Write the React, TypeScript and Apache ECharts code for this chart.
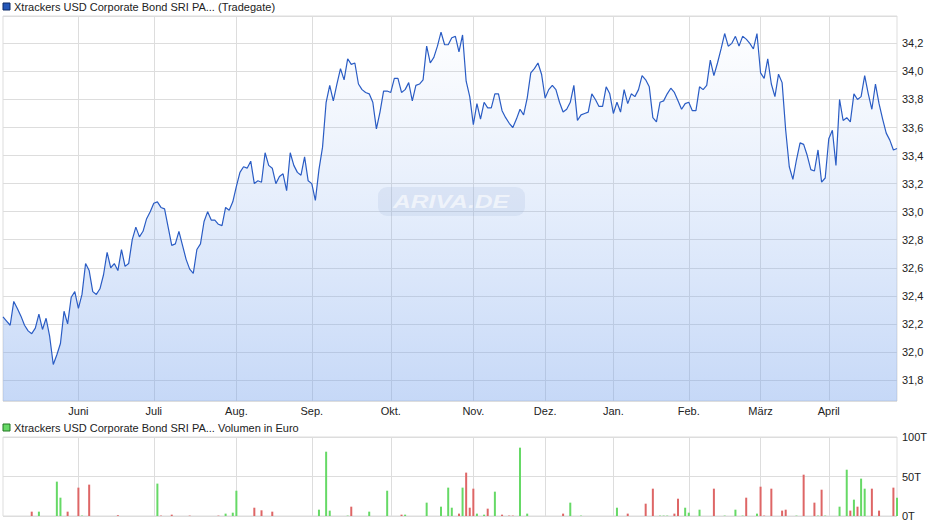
import React, { useEffect, useRef } from 'react';
import * as echarts from 'echarts';

const FONT = '"Liberation Sans", Arial, Helvetica, sans-serif';

// Trading days per month (first block = late May 2024, last = April 2025)
const monthNames = ['Mai', 'Juni', 'Juli', 'Aug.', 'Sep.', 'Okt.', 'Nov.', 'Dez.', 'Jan.', 'Feb.', 'März', 'April'];
const monthDays = [21, 21, 23, 21, 22, 23, 20, 19, 21, 20, 19, 20];

// Closing prices (Tradegate)
const price = [
  32.25, 32.22, 32.19, 32.36, 32.31, 32.255, 32.19, 32.15, 32.13, 32.17,
  32.27, 32.16, 32.24, 32.11, 31.91, 31.98, 32.06, 32.29, 32.2, 32.39,
  32.43, 32.31, 32.41, 32.63, 32.58, 32.43, 32.41, 32.45, 32.55, 32.71,
  32.6, 32.63, 32.58, 32.73, 32.61, 32.63, 32.8, 32.89, 32.82, 32.86,
  32.95, 33.0, 33.06, 33.07, 33.03, 33.02, 32.89, 32.76, 32.77, 32.86,
  32.76, 32.66, 32.59, 32.56, 32.73, 32.77, 32.93, 33.0, 32.94, 32.94,
  32.91, 32.9, 33.03, 33.01, 33.07, 33.18, 33.28, 33.32, 33.31, 33.36,
  33.2, 33.22, 33.21, 33.42, 33.33, 33.31, 33.2, 33.25, 33.27, 33.15,
  33.42, 33.33, 33.28, 33.26, 33.39, 33.22, 33.2, 33.08, 33.3, 33.46,
  33.78, 33.9, 33.79, 33.91, 34.02, 33.94, 34.09, 34.05, 34.06, 33.91,
  33.87, 33.85, 33.84, 33.78, 33.59, 33.71, 33.86, 33.86, 33.85, 33.95,
  33.95, 33.85, 33.87, 33.92, 33.79, 33.9, 33.91, 33.94, 34.18, 34.06,
  34.1, 34.18, 34.28, 34.19, 34.19, 34.24, 34.25, 34.14, 34.26, 33.93,
  33.82, 33.62, 33.77, 33.66, 33.78, 33.74, 33.74, 33.84, 33.84, 33.72,
  33.67, 33.63, 33.6, 33.66, 33.73, 33.69, 33.81, 33.99, 34.02, 34.06,
  33.98, 33.81, 33.87, 33.9, 33.87, 33.78, 33.71, 33.73, 33.78, 33.9,
  33.65, 33.69, 33.7, 33.71, 33.84, 33.8, 33.75, 33.75, 33.89, 33.84,
  33.7, 33.78, 33.71, 33.87, 33.77, 33.84, 33.82, 33.87, 33.97, 33.94,
  33.89, 33.67, 33.64, 33.78, 33.79, 33.84, 33.88, 33.85, 33.79, 33.73,
  33.77, 33.78, 33.72, 33.72, 33.89, 33.87, 33.9, 34.08, 33.97, 34.06,
  34.16, 34.27, 34.18, 34.2, 34.25, 34.18, 34.25, 34.23, 34.2, 34.16,
  34.27, 33.99, 33.95, 34.09, 33.91, 33.82, 33.98, 33.92, 33.58, 33.32,
  33.23, 33.37, 33.49, 33.48, 33.4, 33.3, 33.29, 33.44, 33.21, 33.24,
  33.52, 33.58, 33.33, 33.8, 33.65, 33.67, 33.64, 33.84, 33.8, 33.82,
  33.97, 33.84, 33.73, 33.91, 33.77, 33.66, 33.56, 33.51, 33.44, 33.45,
];

// Volume in thousand euro: trading-day index, value, up (1 = green) / down (0 = red)
const volIdx = [
  8, 10, 15, 16, 18, 21, 22, 24, 32, 43, 44, 47, 52, 60, 62, 64, 65, 70, 72, 75,
  88, 90, 91, 96, 97, 102, 107, 111, 112, 118, 122, 124, 125, 127, 128, 129, 130, 131, 132, 134,
  135, 137, 139, 141, 142, 144, 146, 156, 158, 161, 171, 174, 179, 181, 183, 184, 185, 187, 188, 190,
  191, 194, 198, 201, 204, 206, 207, 210, 211, 212, 214, 217, 218, 221, 223, 226, 227, 228, 229, 233,
  235, 236, 237, 238, 239, 240, 242, 244, 248, 249,
];
const volVal = [
  5.5, 5.5, 43.5, 23.2, 5.5, 35.9, 0.5, 39.7, 1, 41, 0.5, 1.7, 0.5, 0.5, 3, 4.2, 32, 10.5, 7.2, 5.5,
  8, 81.4, 6.8, 0.5, 11.8, 5.5, 32, 1.7, 1.7, 16.9, 11.8, 35.9, 10.5, 3, 35.9, 54.9, 10.5, 34.6, 3, 1.7,
  9.3, 30.8, 1.7, 0.5, 0.5, 86.5, 3, 3, 16.9, 0.5, 10.5, 3, 15.6, 34.6, 0.5, 0.5, 0.5, 3, 21.9, 10.5,
  4.2, 8, 34.6, 0.5, 8, 0.5, 23.2, 3, 37.1, 0.5, 34.6, 6.8, 8, 0.5, 52.3, 16.9, 0.5, 33.3, 0.5, 11.8,
  58.6, 6.8, 20.7, 11.8, 47.3, 34.6, 34.6, 6.8, 35.9, 23.2,
];
const volUp = [
  0, 1, 1, 1, 0, 0, 1, 0, 0, 1, 0, 0, 0, 0, 1, 1, 1, 0, 0, 0,
  1, 1, 1, 1, 0, 1, 1, 0, 1, 1, 1, 1, 1, 0, 1, 0, 0, 0, 1, 1,
  0, 1, 0, 0, 0, 1, 1, 0, 1, 1, 1, 0, 0, 0, 1, 1, 1, 0, 0, 1,
  1, 1, 0, 1, 1, 1, 0, 1, 0, 0, 0, 0, 0, 1, 0, 0, 1, 0, 1, 1,
  1, 0, 1, 0, 1, 1, 0, 0, 0, 1,
];

const volTicks = [0, 50, 100];

const GREEN = '#66d966';
const RED = '#de6666';
const GRIDC = '#dddddd';
const TEXTC = '#222222';

export default function App() {
  const ref = useRef<HTMLDivElement>(null);

  useEffect(() => {
    if (!ref.current) return;
    const chart = echarts.init(ref.current, null, { renderer: 'svg' });

    const categories: string[] = [];
    const starts = new Set<number>();
    monthNames.forEach((m, mi) => {
      for (let k = 0; k < monthDays[mi]; k++) {
        if (k === 0 && mi > 0) starts.add(categories.length);
        categories.push(m + '|' + (k + 1));
      }
    });
    const isStart = (i: number) => starts.has(i);

    const volData: any[] = categories.map(() => '-');
    volIdx.forEach((idx, j) => {
      volData[idx] = { value: volVal[j], itemStyle: { color: volUp[j] ? GREEN : RED } };
    });

    const option: any = {
      animation: false,
      textStyle: { fontFamily: FONT },
      grid: [
        { left: 3, top: 16, width: 894, height: 385, show: true, borderColor: GRIDC, borderWidth: 1, backgroundColor: 'transparent' },
        { left: 3, top: 437, width: 894, height: 79, show: true, borderColor: GRIDC, borderWidth: 1, backgroundColor: 'transparent' },
      ],
      xAxis: [
        {
          type: 'category', gridIndex: 0, data: categories, boundaryGap: false,
          axisLine: { show: false }, axisTick: { show: false },
          axisLabel: {
            interval: (i: number) => isStart(i),
            formatter: (v: string) => v.split('|')[0],
            color: TEXTC, fontSize: 11, margin: 4, fontFamily: FONT,
          },
          splitLine: { show: true, interval: (i: number) => isStart(i), lineStyle: { color: GRIDC, width: 1 } },
        },
        {
          type: 'category', gridIndex: 1, data: categories, boundaryGap: false,
          axisLine: { show: false }, axisTick: { show: false }, axisLabel: { show: false },
          splitLine: { show: true, interval: (i: number) => isStart(i), lineStyle: { color: GRIDC, width: 1 } },
        },
      ],
      yAxis: [
        {
          type: 'value', gridIndex: 0, position: 'right', min: 31.65, max: 34.395, splitNumber: 13, scale: true,
          axisLine: { show: false }, axisTick: { show: false },
          axisLabel: {
            showMinLabel: false, showMaxLabel: false,
            formatter: (v: number) => v.toFixed(1).replace('.', ','),
            color: TEXTC, fontSize: 11, margin: 5, fontFamily: FONT,
          },
          splitLine: { show: true, lineStyle: { color: GRIDC, width: 1 } },
        },
        {
          type: 'value', gridIndex: 1, position: 'right', min: volTicks[0], max: volTicks[2], interval: volTicks[1],
          axisLine: { show: false }, axisTick: { show: false },
          axisLabel: { formatter: (v: number) => v + 'T', color: TEXTC, fontSize: 11, margin: 5, fontFamily: FONT },
          splitLine: { show: true, lineStyle: { color: GRIDC, width: 1 } },
        },
      ],
      series: [
        {
          type: 'line', xAxisIndex: 0, yAxisIndex: 0, data: price, symbol: 'none', z: 3,
          lineStyle: { color: '#2a5cc4', width: 1.2 },
          areaStyle: {
            origin: 'start',
            color: new echarts.graphic.LinearGradient(0, 0, 0, 1, [
              { offset: 0, color: 'rgba(130,170,238,0.02)' },
              { offset: 0.5, color: 'rgba(125,168,238,0.3)' },
              { offset: 1, color: 'rgba(115,160,236,0.58)' },
            ]),
          },
        },
        {
          type: 'bar', xAxisIndex: 1, yAxisIndex: 1, data: volData, barWidth: 2, barGap: '-100%',
        },
      ],
      graphic: [
        { type: 'rect', shape: { x: 3, y: 3, width: 7, height: 7 }, style: { fill: '#2457b8', stroke: '#0c2a66', lineWidth: 1 } },
        { type: 'text', x: 14, y: 7, style: { text: 'Xtrackers USD Corporate Bond SRI PA... (Tradegate)', fill: TEXTC, font: '11px ' + FONT, verticalAlign: 'middle' } },
        { type: 'rect', shape: { x: 3, y: 424, width: 7, height: 7 }, style: { fill: GREEN, stroke: '#227722', lineWidth: 1 } },
        { type: 'text', x: 14, y: 428, style: { text: 'Xtrackers USD Corporate Bond SRI PA... Volumen in Euro', fill: TEXTC, font: '11px ' + FONT, verticalAlign: 'middle' } },
        { type: 'rect', z: 50, shape: { x: 378, y: 187, width: 147, height: 29, r: 9 }, style: { fill: 'rgba(140,165,210,0.16)' } },
        { type: 'text', z: 51, x: 451, y: 202, scaleX: 1.3, style: { text: 'ARIVA.DE', fill: 'rgba(255,255,255,0.6)', font: 'italic bold 19px ' + FONT, align: 'center', verticalAlign: 'middle' } },
      ],
    };

    chart.setOption(option);
    return () => chart.dispose();
  }, []);

  return <div ref={ref} style={{ position: 'fixed', left: 0, top: 0, width: 940, height: 526, background: '#ffffff' }} />;
}
